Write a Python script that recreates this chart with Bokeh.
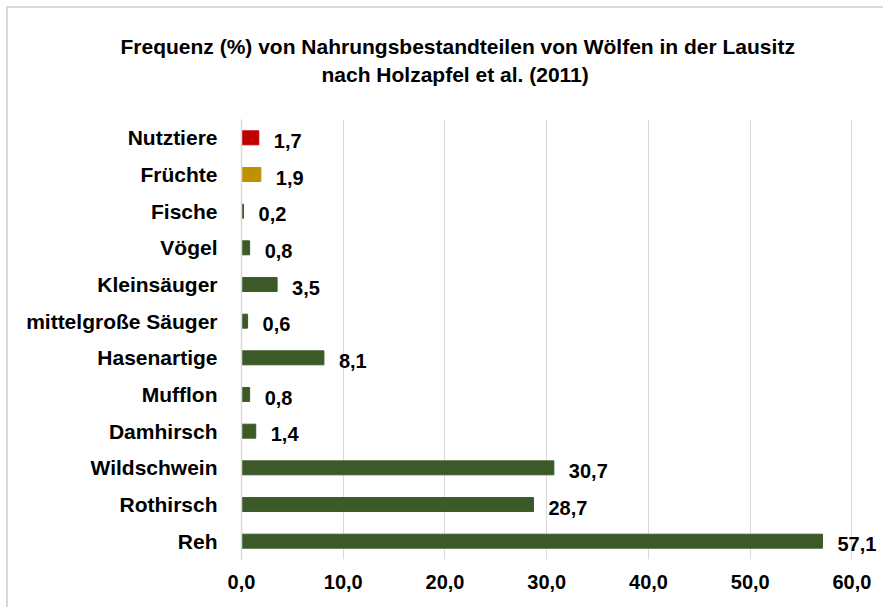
from bokeh.plotting import figure
from bokeh.models import ColumnDataSource, LabelSet, FactorRange, CustomJSTickFormatter, Title
from bokeh.core.properties import value
from bokeh.embed import file_html
from bokeh.resources import INLINE

categories = ["Nutztiere", "Früchte", "Fische", "Vögel", "Kleinsäuger", "mittelgroße Säuger",
              "Hasenartige", "Mufflon", "Damhirsch", "Wildschwein", "Rothirsch", "Reh"]
values = [1.7, 1.9, 0.2, 0.8, 3.5, 0.6, 8.1, 0.8, 1.4, 30.7, 28.7, 57.1]
x_ticks = [0, 10, 20, 30, 40, 50, 60]
title_line1 = "Frequenz (%) von Nahrungsbestandteilen von Wölfen in der Lausitz"
title_line2 = "nach Holzapfel et al. (2011)"

GREEN = "#3B5A27"
special = {"Nutztiere": "#C00000", "Früchte": "#BF9000"}
colors = [special.get(c, GREEN) for c in categories]
labels = [f"{v:.1f}".replace(".", ",") for v in values]

FONT = "Liberation Sans"
FS = "20px"
FS_CAT = "21px"
FS_TITLE = "21px"

src = ColumnDataSource(dict(cat=categories, val=values, color=colors, lab=labels))

p = figure(width=877, height=601, output_backend="svg", toolbar_location=None,
           y_range=FactorRange(*list(reversed(categories))), x_range=(0, 63),
           min_border_left=233, min_border_right=3, min_border_top=111, min_border_bottom=50)
p.styles = {"margin-left": "6px", "margin-top": "6px",
            "border-top": "2px solid #D9D9D9", "border-left": "2px solid #D9D9D9"}

p.hbar(y="cat", right="val", left=0, height=0.38, color="color", source=src)

ls = LabelSet(x="val", y="cat", text="lab", source=src, x_offset=15, y_offset=-3,
              text_baseline="middle", text_align="left", text_font=value(FONT),
              text_font_style="bold", text_font_size=FS, text_color="#000000")
p.add_layout(ls)

p.title = None
t2 = Title(text=title_line2, align="left", offset=80, text_font=FONT, text_font_style="bold",
           text_font_size=FS_TITLE, text_color="#000000", standoff=68)
t1 = Title(text=title_line1, align="left", offset=-121, text_font=FONT, text_font_style="bold",
           text_font_size=FS_TITLE, text_color="#000000", standoff=-62)
p.add_layout(t2, "above")
p.add_layout(t1, "above")

p.xaxis.ticker = x_ticks
p.xaxis.formatter = CustomJSTickFormatter(code="return tick.toFixed(1).replace('.', ',');")
p.xaxis.axis_line_color = None
p.xaxis.major_tick_line_color = None
p.xaxis.minor_tick_line_color = None
p.xaxis.major_label_standoff = 9
p.xaxis.major_label_text_font = FONT
p.xaxis.major_label_text_font_style = "bold"
p.xaxis.major_label_text_font_size = FS
p.xaxis.major_label_text_color = "#000000"

p.yaxis.axis_line_color = "#D9D9D9"
p.yaxis.axis_line_width = 1.5
p.yaxis.major_tick_line_color = None
p.yaxis.minor_tick_line_color = None
p.yaxis.major_label_standoff = 18
p.yaxis.major_label_text_font = FONT
p.yaxis.major_label_text_font_style = "bold"
p.yaxis.major_label_text_font_size = FS_CAT
p.yaxis.major_label_text_color = "#000000"

p.xgrid.grid_line_color = "#D9D9D9"
p.ygrid.grid_line_color = None
p.outline_line_color = None
p.background_fill_color = "white"
p.border_fill_color = "white"

open("out.html", "w").write(file_html(p, INLINE))
